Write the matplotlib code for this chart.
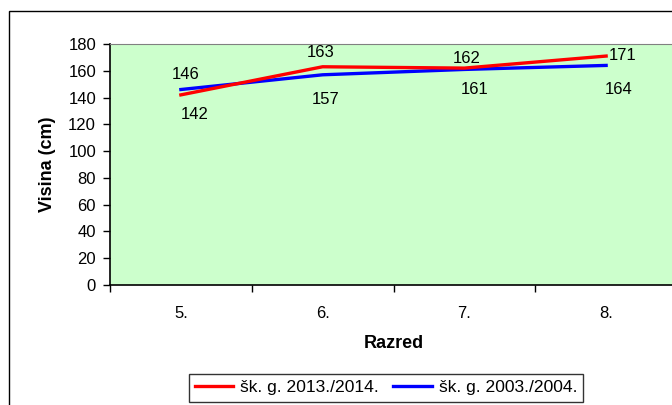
import matplotlib
matplotlib.use("Agg")
import matplotlib.pyplot as plt
from matplotlib.patches import Rectangle

categories = ["5.", "6.", "7.", "8."]
red_values = [142, 163, 162, 171]
blue_values = [146, 157, 161, 164]
red_label = "šk. g. 2013./2014."
blue_label = "šk. g. 2003./2004."
yticks = [0, 20, 40, 60, 80, 100, 120, 140, 160, 180]

plt.rcParams['font.family'] = ['Liberation Sans', 'DejaVu Sans']
FS = 12
FS_TITLE = 13
FS_LEG = 12.6

fig = plt.figure(figsize=(6.72, 4.05), dpi=100)
W, H = 672, 405
# outer chart border
fig.patches.append(Rectangle((9 / W, -0.2), 1.2, 1.2 - 11 / H,
                             transform=fig.transFigure, fill=False,
                             edgecolor='black', linewidth=1.0))

ax = fig.add_axes([110 / W, (H - 285) / H, 567 / W, 241 / H])
ax.set_facecolor('#CCFFCC')

x = list(range(len(categories)))
ax.plot(x, red_values, color='#FF0000', linewidth=2.4, label=red_label, zorder=3)
ax.plot(x, blue_values, color='#0000FF', linewidth=2.4, label=blue_label, zorder=2)

red_off = [(14, -20), (-2, 14), (2, 10), (17, 1)]
blue_off = [(5, 15), (3, -25), (10, -20), (13, -24)]
for i, v in enumerate(red_values):
    ax.annotate(str(v), (x[i], v), xytext=red_off[i], textcoords='offset pixels',
                ha='center', va='center', fontsize=FS)
for i, v in enumerate(blue_values):
    ax.annotate(str(v), (x[i], v), xytext=blue_off[i], textcoords='offset pixels',
                ha='center', va='center', fontsize=FS)

ax.set_xlim(-0.5, len(categories) - 0.5)
ax.set_ylim(0, 180)
ax.set_yticks(yticks)
ax.set_yticklabels([str(t) for t in yticks], fontsize=FS)
ax.set_xticks(x)
ax.set_xticklabels(categories, fontsize=FS)
ax.set_xticks([i - 0.5 for i in range(len(categories) + 1)], minor=True)
ax.tick_params(axis='x', which='major', length=0, pad=15)
ax.tick_params(axis='x', which='minor', length=5, direction='out', width=1)
ax.tick_params(axis='y', which='major', length=5, direction='out', width=1, pad=5)

ax.spines['right'].set_visible(False)
ax.spines['top'].set_color('#808080')
ax.spines['left'].set_color('black')
ax.spines['bottom'].set_color('black')
ax.spines['left'].set_linewidth(1.2)
ax.spines['bottom'].set_linewidth(1.2)

ax.set_xlabel("Razred", fontsize=FS_TITLE, fontweight='bold', labelpad=10)
ax.set_ylabel("Visina (cm)", fontsize=FS_TITLE, fontweight='bold', labelpad=9)

leg = fig.legend(loc='upper center', bbox_to_anchor=(386 / W, 1 - 374 / H),
                 ncol=2, fontsize=FS_LEG, frameon=True, fancybox=False,
                 handlelength=2.2, handletextpad=0.4, columnspacing=0.8,
                 borderpad=0.35, borderaxespad=0)
leg.get_frame().set_edgecolor('black')
leg.get_frame().set_linewidth(1.0)

fig.savefig("out.png", dpi=100)
